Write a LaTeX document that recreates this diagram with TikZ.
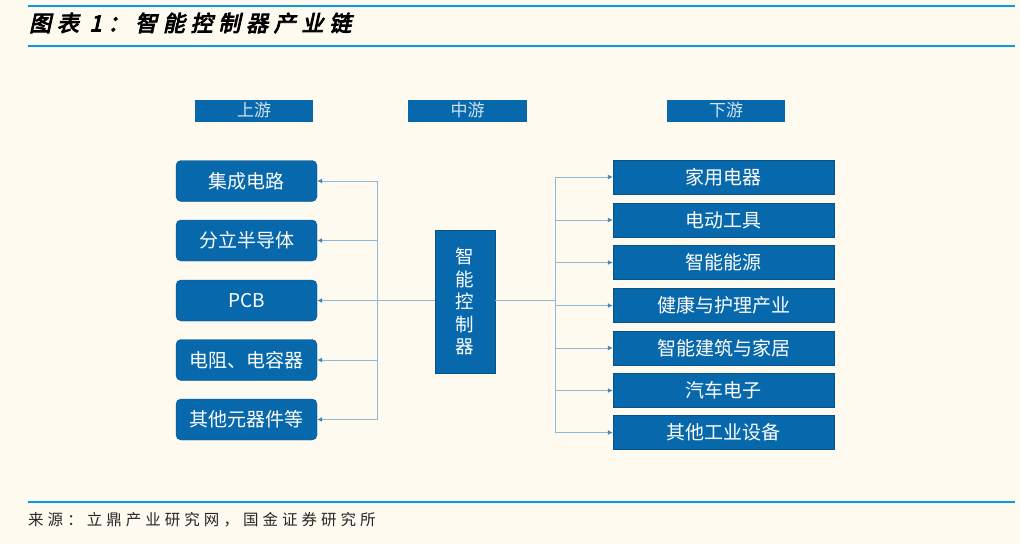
\documentclass[tikz,border=0pt]{standalone}
\usepackage{fontspec}
\usetikzlibrary{arrows.meta}
\newfontfamily\cjk{Noto Sans CJK SC}
\newfontfamily\titlef[FakeSlant=0.22,FakeBold=4,LetterSpace=26]{Noto Sans CJK SC}
\newfontfamily\footf[LetterSpace=26]{Noto Sans CJK SC}
\definecolor{bg}{HTML}{FEFAF0}
\definecolor{boxblue}{HTML}{0868AC}
\definecolor{rule}{HTML}{0A9BDC}
\definecolor{conn}{HTML}{8DB9DA}
\definecolor{hdtext}{HTML}{CFE2F3}
\definecolor{conntip}{HTML}{3F86C0}
\tikzset{
  hdr/.style={fill=boxblue, draw=none, minimum width=118pt, minimum height=22pt, inner sep=0pt,
    text=hdtext, font=\cjk\fontsize{17}{17}\selectfont},
  lbox/.style={fill=boxblue, draw=boxblue!80!black, line width=0.4pt, rounded corners=5pt,
    minimum width=141pt, minimum height=41pt, inner sep=0pt, text=white,
    font=\cjk\fontsize{19}{19}\selectfont},
  rbox/.style={fill=boxblue, draw=boxblue!80!black, line width=0.4pt,
    minimum width=221pt, minimum height=34pt, inner sep=0pt, text=white,
    font=\cjk\fontsize{19}{19}\selectfont},
  cbox/.style={fill=boxblue, draw=boxblue!80!black, line width=0.4pt,
    minimum width=60pt, minimum height=143pt, inner sep=0pt, text=white, align=center,
    font=\cjk\fontsize{18.5}{22.5}\selectfont},
  link/.style={draw=conn, line width=0.9pt},
  arr/.style={link, -{Latex[length=5pt,width=5pt,fill=conntip,color=conntip]}},
  rulel/.style={draw=rule, line width=2pt}
}
\begin{document}
\begin{tikzpicture}[x=1pt,y=-1pt]
\fill[bg] (0,0) rectangle (1020,544);
\useasboundingbox (0,0) rectangle (1020,544);
% rules
\coordinate (t1a) at (28,6); \coordinate (t1b) at (1015,6);
\coordinate (t2a) at (28,46); \coordinate (t2b) at (1015,46);
\coordinate (t3a) at (28,501.5); \coordinate (t3b) at (1015,501.5);
\draw[rulel] (t1a) -- (t1b);
\draw[rulel] (t2a) -- (t2b);
\draw[rulel] (t3a) -- (t3b);
\node[anchor=west, inner sep=0pt, font=\titlef\fontsize{22}{22}\selectfont] (title) at (29,23) {图表 1：智能控制器产业链};
\node[anchor=west, inner sep=0pt, font=\footf\fontsize{15.5}{15.5}\selectfont, text=black!85] (foot) at (28,520) {来源：立鼎产业研究网，国金证券研究所};
% headers
\node[hdr] (h1) at (254,110.5) {上游};
\node[hdr, minimum width=119pt] (h2) at (467.5,110.5) {中游};
\node[hdr] (h3) at (726,110.5) {下游};
% left boxes
\node[lbox] (L1) at (246.5,181) {集成电路};
\node[lbox] (L2) at (246.5,240.5) {分立半导体};
\node[lbox] (L3) at (246.5,300.5) {PCB};
\node[lbox] (L4) at (246.5,360) {电阻、电容器};
\node[lbox] (L5) at (246.5,419.5) {其他元器件等};
% center
\node[cbox] (C) at (465,301.5) {智\\能\\控\\制\\器};
% right boxes
\node[rbox] (R1) at (723.5,177) {家用电器};
\node[rbox] (R2) at (723.5,220) {电动工具};
\node[rbox] (R3) at (723.5,262.5) {智能能源};
\node[rbox] (R4) at (723.5,305.5) {健康与护理产业};
\node[rbox] (R5) at (723.5,348) {智能建筑与家居};
\node[rbox] (R6) at (723.5,390.5) {汽车电子};
\node[rbox] (R7) at (723.5,432.5) {其他工业设备};
% buses
\coordinate (lbus) at (377,0);
\coordinate (rbus) at (555,0);
\draw[link] (lbus |- L1.east) -- (lbus |- L5.east);
\draw[link] (rbus |- R1.west) -- (rbus |- R7.west);
\draw[arr] (C.west |- L3.east) -- (L3.east);
\draw[link] (C.east |- L3.east) -- (rbus |- L3.east);
\foreach \n in {L1,L2,L4,L5}{\draw[arr] (lbus |- \n.east) -- (\n.east);}
\foreach \n in {R1,R2,R3,R4,R5,R6,R7}{\draw[arr] (rbus |- \n.west) -- (\n.west);}
\end{tikzpicture}
\end{document}
